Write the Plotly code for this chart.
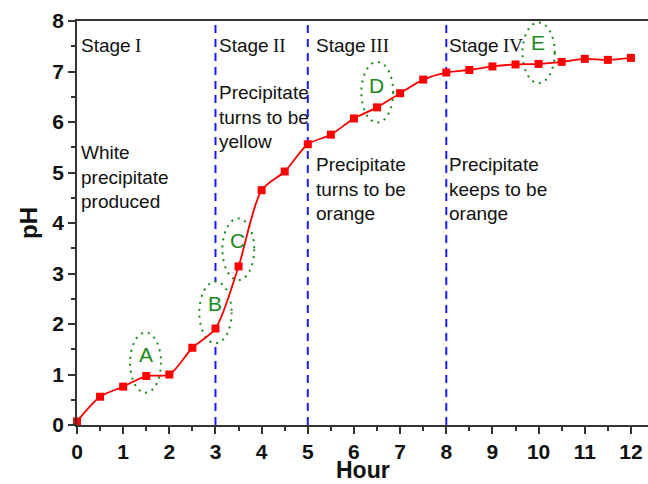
import plotly.graph_objects as go

hours = [0, 0.5, 1, 1.5, 2, 2.5, 3, 3.5, 4, 4.5, 5, 5.5, 6, 6.5, 7, 7.5, 8, 8.5, 9, 9.5, 10, 10.5, 11, 11.5, 12]
ph = [0.07, 0.56, 0.76, 0.97, 1.0, 1.53, 1.91, 3.14, 4.65, 5.02, 5.56, 5.75, 6.07, 6.29, 6.57, 6.84, 6.98, 7.03, 7.10, 7.14, 7.15, 7.19, 7.25, 7.23, 7.27]

stage_bounds = [3, 5, 8]
stage_names = ["I", "II", "III", "IV"]
stage_x = [0.065, 3.05, 5.15, 8.04]
stage_notes = ["White<br>precipitate<br>produced",
               "Precipitate<br>turns to be<br>yellow",
               "Precipitate<br>turns to be<br>orange",
               "Precipitate<br>keeps to be<br>orange"]
note_y = [4.92, 6.1, 4.67, 4.67]

ellipse_labels = ["A", "B", "C", "D", "E"]
ellipse_x0 = [1.15, 2.65, 3.15, 6.16, 9.65]
ellipse_x1 = [1.82, 3.35, 3.84, 6.85, 10.35]
ellipse_y0 = [0.64, 1.62, 2.87, 5.99, 6.77]
ellipse_y1 = [1.83, 2.84, 4.09, 7.19, 7.97]
label_x = [1.49, 2.99, 3.48, 6.49, 9.98]
label_y = [1.39, 2.41, 3.65, 6.73, 7.57]

FONT = "Arial, Liberation Sans, sans-serif"
SERIF = "Times New Roman, Liberation Serif, serif"
PX_PER_HOUR = 554 / 12.0
GREEN = "#1a8a1a"

fig = go.Figure()
fig.add_trace(go.Scatter(
    x=hours, y=ph, mode="lines+markers",
    line=dict(color="#ff0000", width=1.8, shape="spline", smoothing=0.8),
    marker=dict(symbol="square", size=8, color="#ff0000"),
    showlegend=False, cliponaxis=False))

shapes = []
for b in stage_bounds:
    shapes.append(dict(type="line", xref="x", yref="y", x0=b, x1=b, y0=0, y1=8, layer="below",
                       line=dict(color="#1a1aff", width=2, dash="8px,6px")))
for i in range(len(ellipse_labels)):
    shapes.append(dict(type="circle", xref="x", yref="y", layer="below",
                       x0=ellipse_x0[i], x1=ellipse_x1[i], y0=ellipse_y0[i], y1=ellipse_y1[i],
                       fillcolor="white",
                       line=dict(color=GREEN, width=2, dash="2px,5px")))

annotations = []
stage_word_px = 54
for i in range(4):
    annotations.append(dict(
        x=stage_x[i], y=7.52, xref="x", yref="y", xanchor="left", yanchor="middle",
        text="Stage", showarrow=False, borderpad=0,
        font=dict(family=FONT, size=19, color="#111111")))
    annotations.append(dict(
        x=stage_x[i] + stage_word_px / PX_PER_HOUR, y=7.52, xref="x", yref="y",
        xanchor="left", yanchor="middle", text=stage_names[i], showarrow=False, borderpad=0,
        font=dict(family=SERIF, size=19, color="#111111")))
    annotations.append(dict(
        x=stage_x[i], y=note_y[i], xref="x", yref="y", xanchor="left", yanchor="middle",
        text=stage_notes[i], align="left", showarrow=False, borderpad=0,
        font=dict(family=FONT, size=19, color="#111111")))
for i in range(len(ellipse_labels)):
    annotations.append(dict(
        x=label_x[i], y=label_y[i], xref="x", yref="y", xanchor="center", yanchor="middle",
        text=ellipse_labels[i], showarrow=False,
        font=dict(family=FONT, size=21, color=GREEN)))
annotations.append(dict(
    x=0.5, y=-59 / 404, xref="paper", yref="paper", xanchor="center", yanchor="bottom",
    text="<b>Hour</b>", showarrow=False, borderpad=0,
    font=dict(family=FONT, size=23, color="#111111")))

fig.update_layout(
    width=648, height=484,
    margin=dict(l=77, r=0, t=21, b=59),
    paper_bgcolor="white", plot_bgcolor="white",
    shapes=shapes, annotations=annotations,
    font=dict(family=FONT, color="#111111"),
    xaxis=dict(range=[0, 12.37], tickmode="array", tickvals=list(range(13)),
               ticks="outside", ticklen=7, tickwidth=1.5, tickcolor="#333333",
               showline=True, linecolor="#333333", linewidth=1.8, mirror=True,
               showgrid=False, zeroline=False, automargin=False,
               tickfont=dict(family=FONT, size=21, color="#111111", weight="bold"),
               minor=dict(tickvals=[x + 0.5 for x in range(12)], ticks="outside", ticklen=4,
                          tickwidth=1.5, tickcolor="#333333")),
    yaxis=dict(range=[0, 8], tickmode="array", tickvals=list(range(9)),
               ticks="outside", ticklen=7, tickwidth=1.5, tickcolor="#333333",
               showline=True, linecolor="#333333", linewidth=1.8,
               showgrid=False, zeroline=False, automargin=False,
               tickfont=dict(family=FONT, size=21, color="#111111", weight="bold"),
               minor=dict(tickvals=[y + 0.5 for y in range(8)], ticks="outside", ticklen=4,
                          tickwidth=1.5, tickcolor="#333333"),
               title=dict(text="<b>pH</b>", font=dict(family=FONT, size=24, color="#111111"), standoff=8)),
)

fig.write_html("out.html", config={"displayModeBar": False},
               post_script="document.body.style.margin='0';")
